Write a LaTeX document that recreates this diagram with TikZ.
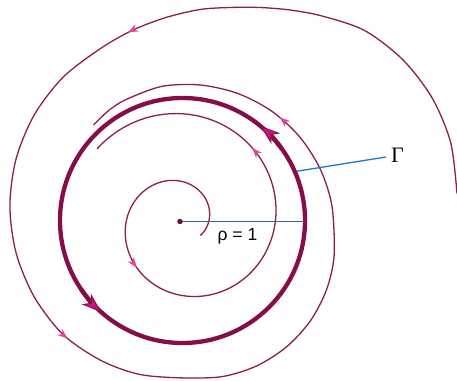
\documentclass[tikz,border=0pt]{standalone}
\usepackage{fontspec}
\setmainfont{Liberation Serif}
\newfontfamily\labelsans{Liberation Sans}
\usetikzlibrary{arrows.meta,decorations.markings,calc}
\definecolor{orbitcol}{HTML}{8E1B56}
\definecolor{cyclecol}{HTML}{870D49}
\definecolor{tippink}{HTML}{E2409A}
\definecolor{tipmag}{HTML}{C4167F}
\definecolor{radcol}{HTML}{3C6482}
\definecolor{leadblue}{HTML}{1E78CC}
\definecolor{dotcol}{HTML}{6E1236}
\tikzset{
  thinhead/.tip={Stealth[length=10pt,width=7.5pt,inset=3.5pt,color=tippink,line width=0.3pt]},
  bighead/.tip={Stealth[length=20pt,width=14pt,inset=6pt,color=cyclecol,fill=tipmag,line width=0.9pt]},
  orbitline/.style={draw=orbitcol,line width=1.3pt},
  cycleline/.style={draw=cyclecol,line width=4.3pt},
}
\begin{document}
\begin{tikzpicture}[x=1pt,y=1pt]
\useasboundingbox (0,0) rectangle (457,380);
\coordinate (C) at (182.5,159.5);
% outer trajectory (approaching the cycle from outside)
\draw[orbitline, postaction={decorate}, decoration={markings,
    mark=at position 0.291 with {\arrow{thinhead}},
    mark=at position 0.536 with {\arrow{thinhead}},
    mark=at position 0.864 with {\arrow{thinhead}}}]
  plot[smooth] coordinates {(457,186.3) (450.7,237.3) (432.2,281.9) (402.9,320.2)
    (364.6,349.5) (322,364) (290,370) (260,372.5) (230,372.5) (200,370.5) (166,362.5)
    (133,350) (101,331.8) (63.2,302.9) (34.3,265.2) (16.1,221.2) (9.9,174.1) (16.1,127)
    (34.3,83) (63.2,45.3) (101,19.5) (140,5.5) (186,2.0) (223.4,3.6) (256.9,14.2)
    (286.5,33.1) (310.3,59) (326.5,90.2) (334.1,124.5) (331.9,174.2) (320.3,210.8)
    (299.7,243.1) (271.5,269) (237.4,286.7) (200,295.05) (161.7,293.6) (125.9,280.4)
    (108.7,269.5) (93.5,255)};
% inner trajectory (approaching the cycle from inside)
\draw[orbitline, shift={(C)}, postaction={decorate}, decoration={markings,
    mark=at position 0.306 with {\arrow{thinhead}},
    mark=at position 0.725 with {\arrow{thinhead}}}]
  plot[domain=-40:500, samples=160, variable=\t]
    ({\t}:{26.5+10*(\t/100)+4.8*(\t/100)^2-0.68*(\t/100)^3});
% limit cycle
\draw[cycleline] (C) circle[radius=122.5];
\draw[cycleline, -{bighead}] ($(C)+(36:122.5)$) arc[start angle=36, end angle=50.5, radius=122.5];
\draw[cycleline, -{bighead}] ($(C)+(214:122.5)$) arc[start angle=214, end angle=228.5, radius=122.5];
% radius
\coordinate (Rend) at (305,158.5);
\node[circle, fill=dotcol, inner sep=0pt, minimum size=5.2pt] (dot) at (180,158.5) {};
\draw[radcol, line width=1.2pt] (dot.center) -- (Rend);
\node[circle, fill=dotcol, inner sep=0pt, minimum size=5.2pt] at (dot) {};
\node[anchor=base, font=\labelsans\fontsize{17.5}{20}\selectfont, inner sep=0pt] (rholab) at (237.5,139.3) {ρ = 1};
% label Gamma
\node[anchor=west, font=\fontsize{22}{25}\selectfont, inner sep=0pt] (gam) at (391,224.5) {Γ};
\coordinate (touch) at ($(C)+(23.3:124.5)$);
\draw[leadblue, line width=1.3pt] (touch) -- ([shift={(-5,-1.5)}]gam.west);
\end{tikzpicture}
\end{document}
